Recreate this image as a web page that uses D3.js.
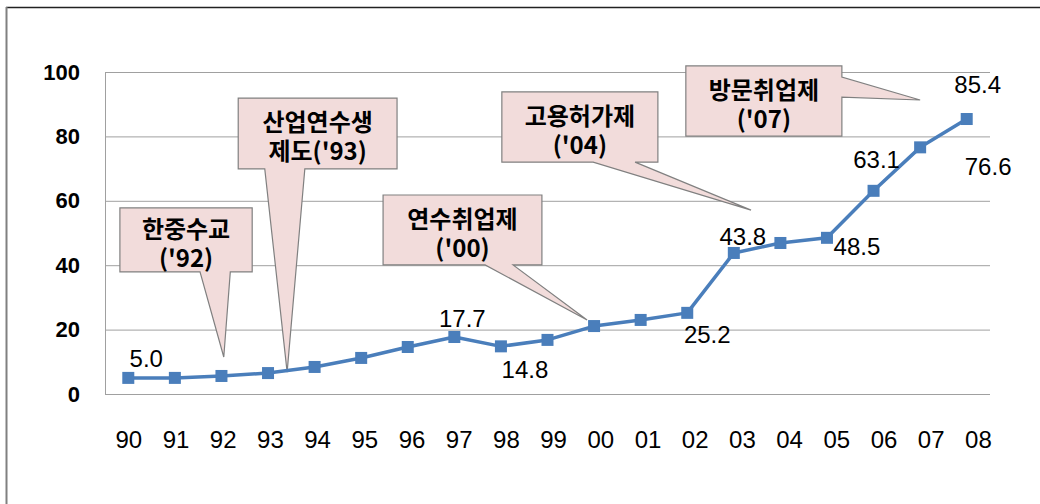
<!DOCTYPE html>
<html>
<head>
<meta charset="utf-8">
<script src="https://cdn.jsdelivr.net/npm/d3@7"></script>
<style>
  body { margin: 0; background: #fff; }
  svg { display: block; }
  .tick text { fill: #000; }
</style>
</head>
<body>
<svg width="1040" height="504"></svg>
<script>
// data
var years = ["90","91","92","93","94","95","96","97","98","99","00","01","02","03","04","05","06","07","08"];
var values = [5.0, 5.0, 5.6, 6.5, 8.4, 11.2, 14.6, 17.7, 14.8, 16.8, 21.1, 23.0, 25.2, 43.8, 46.9, 48.5, 63.1, 76.6, 85.4];
var yTicks = [0, 20, 40, 60, 80, 100];
var labelled = ["90","97","98","02","03","05","06","07","08"];
var noteText = [["한중수교", "('92)"], ["산업연수생", "제도('93)"], ["연수취업제", "('00)"], ["고용허가제", "('04)"], ["방문취업제", "('07)"]];

var svg = d3.select("svg"),
    margin = {top: 72, right: 50, bottom: 110, left: 105},
    width = +svg.attr("width") - margin.left - margin.right,
    height = +svg.attr("height") - margin.top - margin.bottom;

var x = d3.scalePoint().domain(years).range([0, width]).padding(0.5),
    xl = d3.scalePoint().domain(years).range([x(years[0]), x(years[0]) + 18 * 47.2]),
    y = d3.scaleLinear().domain([0, 100]).range([height, 0]);

// outer frame (top + left only)
svg.append("line").attr("x1", 6).attr("x2", 1040).attr("y1", 7.5).attr("y2", 7.5)
    .attr("stroke", "#222").attr("stroke-width", 1.5);
svg.append("line").attr("x1", 6.5).attr("x2", 6.5).attr("y1", 7).attr("y2", 504)
    .attr("stroke", "#808080").attr("stroke-width", 2);

var g = svg.append("g").attr("transform", "translate(" + margin.left + "," + margin.top + ")");

// y axis + grid
var yAxis = g.append("g").attr("class", "axis axis--y")
    .call(d3.axisLeft(y).tickValues(yTicks).tickSize(-width).tickSizeOuter(0).tickPadding(25));
yAxis.select(".domain").attr("stroke", "#a0a0a0");
yAxis.selectAll(".tick line").attr("stroke", "#a0a0a0");
yAxis.selectAll(".tick text")
    .style("font-family", "'Liberation Sans', Arial, sans-serif")
    .style("font-size", "22px").style("font-weight", "bold");

// x axis labels
var xAxis = g.append("g").attr("class", "axis axis--x")
    .attr("transform", "translate(0," + height + ")")
    .call(d3.axisBottom(xl).tickSize(0).tickPadding(37));
xAxis.select(".domain").remove();
xAxis.selectAll(".tick text")
    .style("font-family", "'Liberation Sans', Arial, sans-serif")
    .style("font-size", "24px");

// callouts (drawn under the line)
var fx = function(i) { return x(years[0]) + i * x.step(); };
var notes = [
  {box: [-0.18, 2.66, 57.8, 37.9], side: "bottom", base: [1.54, 2.19], tip: [2.05, 11.5]},
  {box: [2.36, 5.77, 91.9, 69.9], side: "bottom", base: [2.93, 3.79], tip: [3.41, 6.8]},
  {box: [5.47, 8.88, 61.8, 40.1], side: "bottom", base: [7.66, 8.26], tip: [9.85, 23.0]},
  {box: [8.02, 11.37, 93.8, 72.0], side: "bottom", base: [9.98, 10.88], tip: [13.37, 57.1]},
  {box: [11.97, 15.32, 101.9, 80.1], side: "right", base: [98.4, 92.2], tip: [17.0, 91.3]}
];

notes.forEach(function(n, k) {
  var x0 = fx(n.box[0]), x1 = fx(n.box[1]), y0 = y(n.box[2]), y1 = y(n.box[3]);
  var tx = fx(n.tip[0]), ty = y(n.tip[1]);
  var p = d3.path();
  p.moveTo(x0, y0);
  p.lineTo(x1, y0);
  if (n.side === "right") {
    p.lineTo(x1, y(n.base[0]));
    p.lineTo(tx, ty);
    p.lineTo(x1, y(n.base[1]));
    p.lineTo(x1, y1);
    p.lineTo(x0, y1);
  } else {
    p.lineTo(x1, y1);
    p.lineTo(fx(n.base[1]), y1);
    p.lineTo(tx, ty);
    p.lineTo(fx(n.base[0]), y1);
    p.lineTo(x0, y1);
  }
  p.closePath();
  g.append("path").attr("d", p.toString())
      .attr("fill", "#f2dcdb").attr("stroke", "#808080").attr("stroke-width", 1.2);
  var cx = (x0 + x1) / 2, cy = (y0 + y1) / 2;
  var t = g.append("text")
      .attr("text-anchor", "middle")
      .style("font-family", "'Noto Sans CJK KR', sans-serif")
      .style("font-weight", "bold").style("font-size", "24px").attr("fill", "#000");
  t.append("tspan").attr("x", cx).attr("y", cy - 11).attr("dy", "0.36em").text(noteText[k][0]);
  t.append("tspan").attr("x", cx).attr("y", cy + 18).attr("dy", "0.36em").text(noteText[k][1]);
});

// line + markers
var line = d3.line()
    .x(function(d, i) { return x(years[i]); })
    .y(function(d) { return y(d); });

g.append("path").datum(values)
    .attr("fill", "none").attr("stroke", "#4a7ebb").attr("stroke-width", 3.5)
    .attr("stroke-linejoin", "round").attr("d", line);

g.selectAll(".marker").data(values).enter().append("rect")
    .attr("class", "marker")
    .attr("x", function(d, i) { return x(years[i]) - 6; })
    .attr("y", function(d) { return y(d) - 6; })
    .attr("width", 12).attr("height", 12)
    .attr("fill", "#4a7ebb");

// data labels (offsets as placed in the original)
var offs = {"90": [18, -11], "97": [8, -10], "98": [24, 32], "02": [20, 30], "03": [9, -8],
            "05": [30, 17], "06": [3, -23], "07": [68, 28], "08": [11, -26]};
labelled.forEach(function(yr) {
  var i = years.indexOf(yr);
  g.append("text")
      .attr("x", x(yr) + offs[yr][0])
      .attr("y", y(values[i]) + offs[yr][1])
      .attr("text-anchor", "middle")
      .style("font-family", "'Liberation Sans', Arial, sans-serif")
      .style("font-size", "24px").attr("fill", "#000")
      .text(d3.format(".1f")(values[i]));
});
</script>
</body>
</html>
